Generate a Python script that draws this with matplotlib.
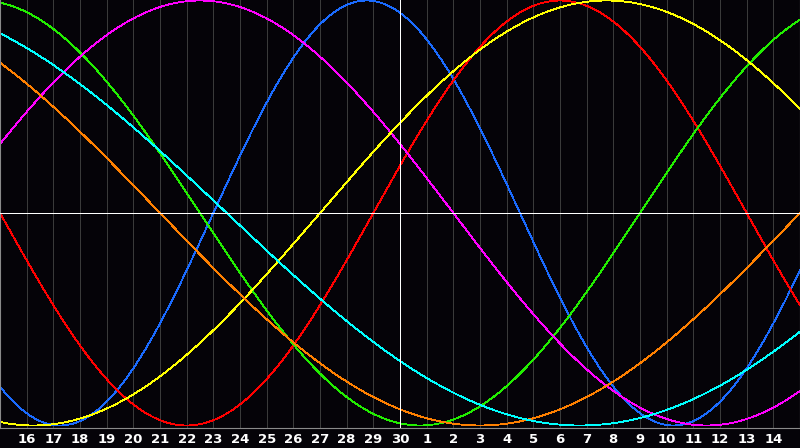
import numpy as np
import matplotlib
matplotlib.use('Agg')
import matplotlib.pyplot as plt

# biorhythm cycles (period in days) and their colours
cycle_periods = [23, 28, 33, 38, 43, 48, 53]
cycle_colors = ['#1a6bff', '#ff0000', '#22ee00', '#ff00ff', '#ffff00', '#ff8000', '#00ffff']

# days lived at the left edge of the chart
days_alive = 20370

# day-of-month tick labels, one per grid line
day_labels = [str(d) for d in range(16, 31)] + [str(d) for d in range(1, 15)]
today_index = 15  # the 30th

n_days = 30
bg = '#050308'

fig = plt.figure(figsize=(8, 4.48), dpi=100, facecolor=bg)
ax = fig.add_axes([0, 20 / 448, 1, 428 / 448])
ax.set_facecolor(bg)

# grid lines for every day
ax.vlines(range(1, n_days), -2, 2, colors='#3a3a3a', lw=0.6, zorder=1, antialiased=False)

# one curve per cycle
t = np.linspace(0, n_days, 1601)
for period, col in zip(cycle_periods, cycle_colors):
    val = np.sin(2 * np.pi * (days_alive + t) / period)
    ax.plot(t, val, color=col, lw=0.6, zorder=2, antialiased=False)

# centre line and today marker
ax.axhline(0, color='white', lw=0.6, zorder=3, antialiased=False)
ax.axvline(today_index, color='white', lw=0.6, zorder=3, antialiased=False)

amp = 212.5
ax.set_xlim(0, n_days)
ax.set_ylim(-(428 - 213) / amp, 213 / amp)

for side in ['left', 'right', 'bottom']:
    ax.spines[side].set_color('#8a8a8a')
    ax.spines[side].set_linewidth(0.8)
ax.spines['top'].set_visible(False)

ax.set_xticks(range(1, n_days))
ax.set_xticklabels(day_labels, color='white', fontsize=9.5, fontweight='bold',
                   family='DejaVu Sans')
ax.tick_params(axis='x', length=0, pad=3.5)
ax.set_yticks([])

fig.savefig('out.png', dpi=100, facecolor=bg)
